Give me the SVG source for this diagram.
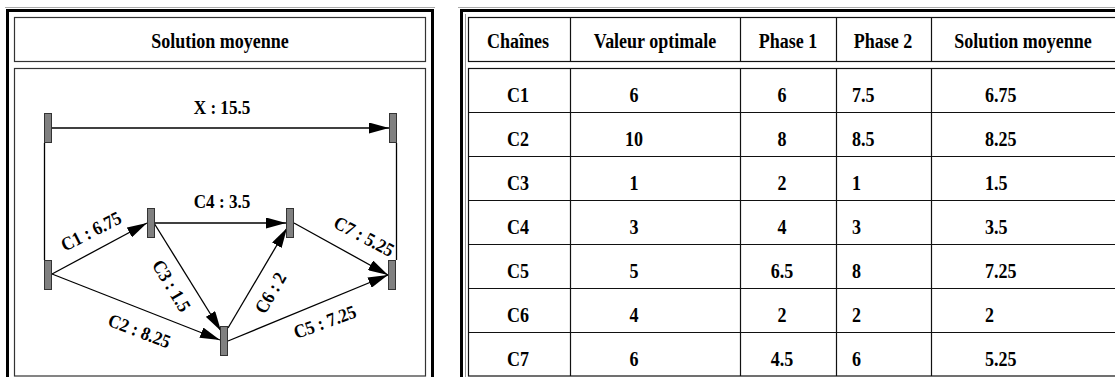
<svg xmlns="http://www.w3.org/2000/svg" width="1115" height="377" viewBox="0 0 1115 377">
<style>
.frame{fill:none;stroke:#000;stroke-width:3}
.box{fill:#fff;stroke:#333;stroke-width:1.2}
.grid{stroke:#111;stroke-width:1.2;fill:none}
.node{fill:#808080;stroke:#333;stroke-width:1}
.edge{stroke:#000;stroke-width:1.3;fill:none}
.t{font-family:"Liberation Serif","Times New Roman",serif;font-weight:bold;fill:#000}
.h{font-size:20px}
.l{font-size:19px;text-anchor:middle}
.m{text-anchor:middle}
</style>
<defs>
<marker id="arr" markerUnits="userSpaceOnUse" markerWidth="20" markerHeight="11" refX="20" refY="5.5" orient="auto">
<path d="M0,0 L20,5.5 L0,11 z" fill="#000"/>
</marker>
</defs>
<rect width="1115" height="377" fill="#fff"/>
<g id="left-panel">
<line x1="5" y1="7.5" x2="435" y2="7.5" stroke="#aaa" stroke-width="1"/>
<path class="frame" d="M7.5,380 V10.5 H432.5 V380"/>
<rect class="box" x="14.5" y="17.5" width="411" height="44"/>
<text class="t h m" transform="translate(220,48) scale(0.9,1)">Solution moyenne</text>
<rect class="box" x="14.5" y="68.5" width="411" height="307.5"/>
</g>
<g id="connectors">
<line class="edge" x1="52" y1="128" x2="389" y2="128" marker-end="url(#arr)"/>
<line class="edge" x1="44.5" y1="143" x2="44.5" y2="260"/>
<line class="edge" x1="396.5" y1="143" x2="396.5" y2="260"/>
<line class="edge" x1="52" y1="274" x2="147" y2="223" marker-end="url(#arr)"/>
<line class="edge" x1="52" y1="274" x2="220" y2="340" marker-end="url(#arr)"/>
<line class="edge" x1="155" y1="223" x2="286" y2="223" marker-end="url(#arr)"/>
<line class="edge" x1="154" y1="223" x2="221" y2="331" marker-end="url(#arr)"/>
<line class="edge" x1="228" y1="328" x2="287" y2="228" marker-end="url(#arr)"/>
<line class="edge" x1="294" y1="223" x2="388" y2="275" marker-end="url(#arr)"/>
<line class="edge" x1="228" y1="341" x2="388" y2="275" marker-end="url(#arr)"/>
</g>
<g id="labels">
<text class="t l" transform="translate(222,114) scale(0.9,1)">X : 15.5</text>
<text class="t l" transform="translate(222,208) scale(0.9,1)">C4 : 3.5</text>
<text class="t l" transform="translate(94,237) rotate(-27) scale(0.9,1)">C1 : 6.75</text>
<text class="t l" transform="translate(361,242) rotate(28) scale(0.9,1)">C7 : 5.25</text>
<text class="t l" transform="translate(166,289) rotate(59) scale(0.9,1)">C3 : 1.5</text>
<text class="t l" transform="translate(276,296) rotate(-60) scale(0.9,1)">C6 : 2</text>
<text class="t l" transform="translate(137,337) rotate(21) scale(0.9,1)">C2 : 8.25</text>
<text class="t l" transform="translate(327,328) rotate(-20) scale(0.9,1)">C5 : 7.25</text>
</g>
<g id="n-x-src"><rect class="node" x="44.5" y="113.5" width="7" height="29"/></g>
<g id="n-x-dst"><rect class="node" x="389.5" y="113.5" width="7" height="29"/></g>
<g id="n-a"><rect class="node" x="44.5" y="260.5" width="7" height="29"/></g>
<g id="n-b"><rect class="node" x="147.5" y="208.5" width="7" height="29"/></g>
<g id="n-c"><rect class="node" x="286.5" y="208.5" width="7" height="29"/></g>
<g id="n-d"><rect class="node" x="220.5" y="326.5" width="7" height="29"/></g>
<g id="n-e"><rect class="node" x="388.5" y="260.5" width="7" height="29"/></g>
<g id="table">
<line x1="458" y1="7.5" x2="1115" y2="7.5" stroke="#aaa" stroke-width="1"/>
<path class="frame" d="M461.5,380 V10.5 H1120"/>
<line x1="465.5" y1="14" x2="465.5" y2="380" stroke="#999" stroke-width="1"/>
<rect class="grid" x="468.5" y="17.5" width="660" height="44"/>
<rect class="grid" x="468.5" y="68.5" width="660" height="307.5"/>
<path class="grid" d="M570.5,17.5V61.5M740.5,17.5V61.5M836.5,17.5V61.5M931.5,17.5V61.5M570.5,68.5V376M740.5,68.5V376M836.5,68.5V376M931.5,68.5V376M468.5,112.5H1120M468.5,156.5H1120M468.5,200.5H1120M468.5,244.5H1120M468.5,288.5H1120M468.5,332.5H1120"/>
<g class="t h m">
<text transform="translate(518,48) scale(0.9,1)">Chaînes</text>
<text transform="translate(655,48) scale(0.9,1)">Valeur optimale</text>
<text transform="translate(788,48) scale(0.9,1)">Phase 1</text>
<text transform="translate(883,48) scale(0.9,1)">Phase 2</text>
<text transform="translate(1023,48) scale(0.9,1)">Solution moyenne</text>
</g>
<g class="t h m">
<text transform="translate(518,102) scale(0.9,1)">C1</text><text transform="translate(634,102) scale(0.9,1)">6</text><text transform="translate(782,102) scale(0.9,1)">6</text>
<text transform="translate(518,146) scale(0.9,1)">C2</text><text transform="translate(634,146) scale(0.9,1)">10</text><text transform="translate(782,146) scale(0.9,1)">8</text>
<text transform="translate(518,190) scale(0.9,1)">C3</text><text transform="translate(634,190) scale(0.9,1)">1</text><text transform="translate(782,190) scale(0.9,1)">2</text>
<text transform="translate(518,234) scale(0.9,1)">C4</text><text transform="translate(634,234) scale(0.9,1)">3</text><text transform="translate(782,234) scale(0.9,1)">4</text>
<text transform="translate(518,278) scale(0.9,1)">C5</text><text transform="translate(634,278) scale(0.9,1)">5</text><text transform="translate(782,278) scale(0.9,1)">6.5</text>
<text transform="translate(518,322) scale(0.9,1)">C6</text><text transform="translate(634,322) scale(0.9,1)">4</text><text transform="translate(782,322) scale(0.9,1)">2</text>
<text transform="translate(518,366) scale(0.9,1)">C7</text><text transform="translate(634,366) scale(0.9,1)">6</text><text transform="translate(782,366) scale(0.9,1)">4.5</text>
</g>
<g class="t h">
<text transform="translate(852,102) scale(0.9,1)">7.5</text><text transform="translate(985,102) scale(0.9,1)">6.75</text>
<text transform="translate(852,146) scale(0.9,1)">8.5</text><text transform="translate(985,146) scale(0.9,1)">8.25</text>
<text transform="translate(852,190) scale(0.9,1)">1</text><text transform="translate(985,190) scale(0.9,1)">1.5</text>
<text transform="translate(852,234) scale(0.9,1)">3</text><text transform="translate(985,234) scale(0.9,1)">3.5</text>
<text transform="translate(852,278) scale(0.9,1)">8</text><text transform="translate(985,278) scale(0.9,1)">7.25</text>
<text transform="translate(852,322) scale(0.9,1)">2</text><text transform="translate(985,322) scale(0.9,1)">2</text>
<text transform="translate(852,366) scale(0.9,1)">6</text><text transform="translate(985,366) scale(0.9,1)">5.25</text>
</g>
</g>
</svg>
